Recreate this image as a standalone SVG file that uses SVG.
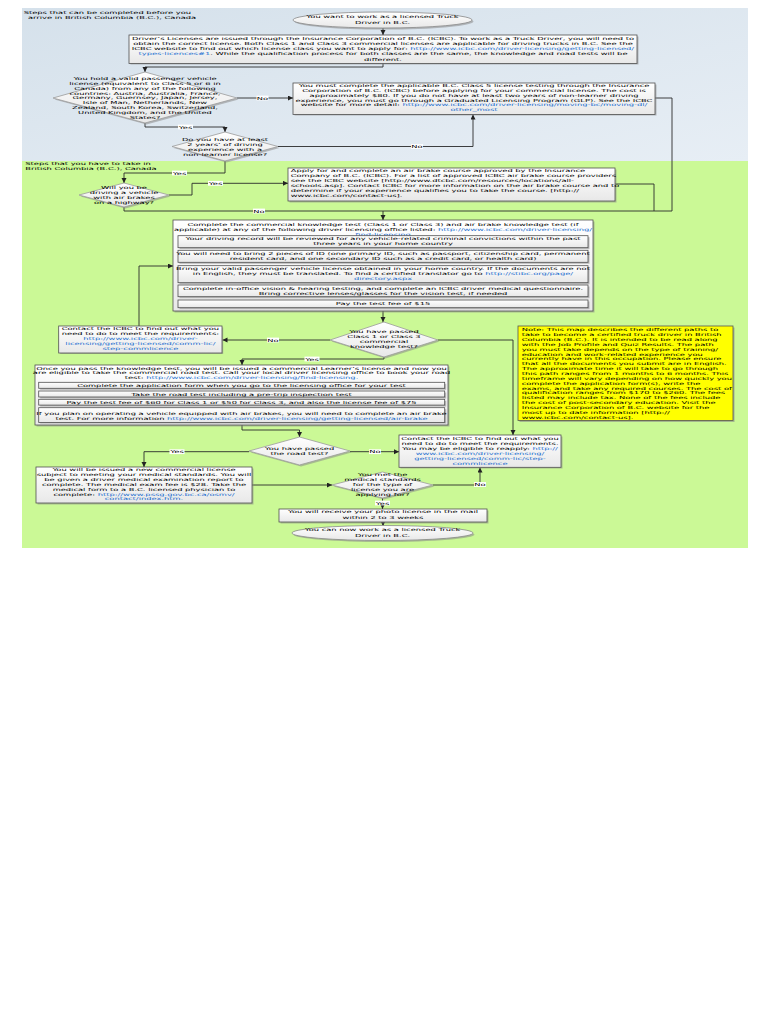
<svg xmlns="http://www.w3.org/2000/svg" width="768" height="1024" viewBox="0 0 768 1024">
<defs>
<linearGradient id="gb" x1="0" y1="0" x2="1" y2="1"><stop offset="0" stop-color="#d5e1eb"/><stop offset="1" stop-color="#e7eef5"/></linearGradient>
<linearGradient id="gw" x1="0" y1="0" x2="0" y2="1"><stop offset="0" stop-color="#ffffff"/><stop offset="1" stop-color="#e8e8e8"/></linearGradient>
<marker id="ar" markerUnits="userSpaceOnUse" markerWidth="6" markerHeight="6" refX="5" refY="2.5" orient="auto"><path d="M0,0 L5,2.5 L0,5 z" fill="#222"/></marker>
</defs>
<style>
.t{font-family:"DejaVu Sans",Verdana,sans-serif;font-size:4.1px;fill:#000}
.m{text-anchor:middle}
.k{fill:#1e6fd0}
.bx{fill:url(#gw);stroke:#505050;stroke-width:0.8}
.sh{fill:#8a8a8a;opacity:.55}
.dm{fill:url(#gw);stroke:#9a9a9a;stroke-width:0.8}
.cn{fill:none;stroke:#2a2a2a;stroke-width:0.9}
.lb{fill:#fff}
</style>
<rect x="0" y="0" width="768" height="1024" fill="#fff"/>
<rect x="22" y="8" width="726" height="153" fill="url(#gb)"/>
<rect x="22" y="161" width="726" height="387" fill="#cbf996"/>

<g class="t" transform="matrix(2.03 0 0 1 23.7 -0.3)"><text y="14.7">Steps that can be completed before you</text><text x="2.1" y="19.8">arrive in British Columbia (B.C.), Canada</text></g>
<g class="t" transform="matrix(2.03 0 0 1 25.3 -0.3)"><text y="165.2">Steps that you have to take in</text><text y="170.4">British Columbia (B.C.), Canada</text></g>

<g id="connectors">
<path class="cn" d="M383,28 V35" marker-end="url(#ar)"/>
<path class="cn" d="M383,63.5 V67 H145 V72" marker-end="url(#ar)"/>
<path class="cn" d="M237,98 H293" marker-end="url(#ar)"/>
<path class="cn" d="M145,123 V127 H225 V132" marker-end="url(#ar)"/>
<path class="cn" d="M278,146.5 H473 V114.5" marker-end="url(#ar)"/>
<path class="cn" d="M655,98 H672 V211 H654"/>
<path class="cn" d="M225,161 V173 H124 V183" marker-end="url(#ar)"/>
<path class="cn" d="M169,195 H192 V183.3 H288" marker-end="url(#ar)"/>
<path class="cn" d="M124,207 V211 H383"/>
<path class="cn" d="M615,184 H654 V211 H383 V220" marker-end="url(#ar)"/>
<path class="cn" d="M383,311 V322" marker-end="url(#ar)"/>
<path class="cn" d="M330,340 H222.5" marker-end="url(#ar)"/>
<path class="cn" d="M139,326 V266 H173" marker-end="url(#ar)"/>
<path class="cn" d="M384,357 V359 H242 V365" marker-end="url(#ar)"/>
<path class="cn" d="M438,340 H513 V435" marker-end="url(#ar)"/>
<path class="cn" d="M242,425 V430 H299.5 V437" marker-end="url(#ar)"/>
<path class="cn" d="M350,451.7 H399" marker-end="url(#ar)"/>
<path class="cn" d="M249,451.7 H144 V467" marker-end="url(#ar)"/>
<path class="cn" d="M252,485 H332" marker-end="url(#ar)"/>
<path class="cn" d="M433,485 H480 V467.5" marker-end="url(#ar)"/>
<path class="cn" d="M382.5,498 V509" marker-end="url(#ar)"/>
<path class="cn" d="M383,522 V526" marker-end="url(#ar)"/>
<g class="t">
<rect class="lb" x="256.5" y="95.6" width="12" height="4.8"/><text class="m" transform="matrix(2.03 0 0 1 262.5 99.7)">No</text>
<rect class="lb" x="178" y="124.6" width="15" height="4.8"/><text class="m" transform="matrix(2.03 0 0 1 185.5 128.7)">Yes</text>
<rect class="lb" x="411" y="144.1" width="12" height="4.8"/><text class="m" transform="matrix(2.03 0 0 1 417 148.2)">No</text>
<rect class="lb" x="172" y="170.6" width="15" height="4.8"/><text class="m" transform="matrix(2.03 0 0 1 179.5 174.7)">Yes</text>
<rect class="lb" x="208" y="180.9" width="15" height="4.8"/><text class="m" transform="matrix(2.03 0 0 1 215.5 185)">Yes</text>
<rect class="lb" x="253" y="208.6" width="12" height="4.8"/><text class="m" transform="matrix(2.03 0 0 1 259 212.7)">No</text>
<rect class="lb" x="267" y="337.6" width="12" height="4.8"/><text class="m" transform="matrix(2.03 0 0 1 273 341.7)">No</text>
<rect class="lb" x="304.5" y="356.6" width="15" height="4.8"/><text class="m" transform="matrix(2.03 0 0 1 312 360.7)">Yes</text>
<rect class="lb" x="369" y="449.3" width="12" height="4.8"/><text class="m" transform="matrix(2.03 0 0 1 375 453.4)">No</text>
<rect class="lb" x="169.5" y="449.3" width="15" height="4.8"/><text class="m" transform="matrix(2.03 0 0 1 177 453.4)">Yes</text>
<rect class="lb" x="474" y="482.1" width="12" height="4.8"/><text class="m" transform="matrix(2.03 0 0 1 480 486.2)">No</text>
<rect class="lb" x="375" y="500.6" width="15" height="4.8"/><text class="m" transform="matrix(2.03 0 0 1 382.5 504.7)">Yes</text>
</g>
</g>

<g id="start">
<ellipse cx="384" cy="21.5" rx="89.5" ry="8" class="sh"/>
<ellipse cx="382.5" cy="20" rx="89.5" ry="8" fill="url(#gw)" stroke="#888" stroke-width="0.8"/>
<g class="t m" transform="matrix(2.03 0 0 1 382.5 -0.3)"><text y="18.8">You want to work as a licensed Truck</text><text y="24.8">Driver in B.C.</text></g>
</g>

<g id="licenses">
<rect x="130.5" y="36.5" width="508" height="28" class="sh"/>
<rect x="129" y="35" width="508" height="28.5" class="bx"/>
<g class="t m" transform="matrix(2.03 0 0 1 383 -0.3)">
<text y="40.3">Driver’s Licenses are issued through the Insurance Corporation of B.C. (ICBC). To work as a Truck Driver, you will need to</text>
<text y="45.4">obtain the correct license.  Both Class 1 and Class 3 commercial licenses are applicable for driving trucks in B.C. See the</text>
<text y="50.6">ICBC website to find out which license class you want to apply for: <tspan class="k">http://www.icbc.com/driver-licensing/getting-licensed/</tspan></text>
<text y="55.8"><tspan class="k">types-licences#1</tspan>. While the qualification process for both classes are the same, the knowledge and road tests will be</text>
<text y="60.9">different.</text>
</g>
</g>

<g id="d-passenger">
<polygon points="146.5,73.5 238.5,99.5 146.5,124.5 54.5,99.5" class="sh"/>
<polygon points="145,72 237,98 145,123 53,98" class="dm"/>
<g class="t m" transform="matrix(2.03 0 0 1 145 -0.3)">
<text y="80.5">You hold a valid passenger vehicle</text>
<text y="85.3">license (equivalent to Class 5 or 6 in</text>
<text y="90.1">Canada) from any of the following</text>
<text y="95">countries: Austria, Australia, France,</text>
<text y="99.8">Germany, Guernsey, Japan, Jersey,</text>
<text y="104.6">Isle of Man, Netherlands, New</text>
<text y="109.5">Zealand, South Korea, Switzerland,</text>
<text y="114.3">United Kingdom, and the United</text>
<text y="119.1">States?</text>
</g>
</g>

<g id="class5">
<rect x="294.5" y="84.5" width="362" height="31" class="sh"/>
<rect x="293" y="83" width="362" height="31.5" class="bx"/>
<g class="t m" transform="matrix(2.03 0 0 1 474 -0.3)">
<text y="87.8">You must complete the applicable B.C. Class 5 license testing through the Insurance</text>
<text y="92.5">Corporation of B.C. (ICBC) before applying for your commercial license. The cost is</text>
<text y="97.2">approximately $80.  If you do not have at least two years of non-learner driving</text>
<text y="101.9">experience, you must go through a Graduated Licensing Program (GLP). See the ICBC</text>
<text y="106.8">website for more detail: <tspan class="k">http://www.icbc.com/driver-licensing/moving-bc/moving-dl/</tspan></text>
<text y="111.8" class="k">other_most</text>
</g>
</g>

<g id="d-twoyears">
<polygon points="226.5,133.5 279.5,148 226.5,162.5 173.5,148" class="sh"/>
<polygon points="225,132 278,146.5 225,161 172,146.5" class="dm"/>
<g class="t m" transform="matrix(2.03 0 0 1 225 -0.3)">
<text y="141.7">Do you have at least</text>
<text y="146.5">2 years’ of driving</text>
<text y="151.3">experience with a</text>
<text y="156.1">non-learner license?</text>
</g>
</g>

<g id="d-airbrakes">
<polygon points="125.5,184.5 170.5,196.5 125.5,208.5 80.5,196.5" class="sh"/>
<polygon points="124,183 169,195 124,207 79,195" class="dm"/>
<g class="t m" transform="matrix(2.03 0 0 1 124 -0.3)">
<text y="189">Will you be</text>
<text y="194">driving a vehicle</text>
<text y="199">with air brakes</text>
<text y="204">on a highway?</text>
</g>
</g>

<g id="airbrake-course">
<rect x="289.5" y="169.5" width="327" height="33" class="sh"/>
<rect x="288" y="168" width="327" height="33" class="bx"/>
<g class="t" transform="matrix(2.03 0 0 1 290.7 -0.3)">
<text y="172.4">Apply for and complete an air brake course approved by the Insurance</text>
<text y="177.4">Company of B.C. (ICBC). For a list of approved ICBC air brake course providers</text>
<text y="182.2">see the ICBC website [http://www.dtcbc.com/resources/locations/all-</text>
<text y="187.1">schools.asp]. Contact ICBC for more information on the air brake course and to</text>
<text y="192.1">determine if your experience qualifies you to take the course. [http://</text>
<text y="197.1">www.icbc.com/contact-us].</text>
</g>
</g>

<g id="knowledge-test">
<rect x="174.5" y="221.5" width="420" height="91" class="sh"/>
<rect x="173" y="220" width="420" height="91" class="bx"/>
<g class="t m" transform="matrix(2.03 0 0 1 383 -0.3)">
<text y="226.8">Complete the commercial knowledge test (Class 1 or Class 3)  and air brake knowledge test (if</text>
<text y="231.8">applicable) at any of the following driver licensing office listed: <tspan class="k">http://www.icbc.com/driver-licensing/</tspan></text>
<text y="236.3" class="k">find-licensing</text>
</g>
<rect x="179.5" y="237.2" width="410" height="12" class="sh"/>
<rect x="178" y="235.7" width="410" height="12" class="bx"/>
<rect x="179.5" y="251.8" width="410" height="12" class="sh"/>
<rect x="178" y="250.3" width="410" height="12" class="bx"/>
<rect x="179.5" y="267.2" width="410" height="17" class="sh"/>
<rect x="178" y="265.7" width="410" height="17" class="bx"/>
<rect x="179.5" y="286.5" width="410" height="11.7" class="sh"/>
<rect x="178" y="285" width="410" height="11.7" class="bx"/>
<rect x="179.5" y="301.5" width="410" height="7.7" class="sh"/>
<rect x="178" y="300" width="410" height="7.7" class="bx"/>
<g class="t m" transform="matrix(2.03 0 0 1 383 -0.3)">
<text y="240.8">Your driving record will be reviewed for any vehicle-related criminal convictions within the past</text>
<text y="245.8">three years in your home country</text>
<text y="255.4">You will need to bring 2 pieces of ID (one primary ID, such as passport, citizenship card, permanent</text>
<text y="260.4">resident card, and one secondary ID such as a credit card, or health card)</text>
<text y="270.1">Bring your valid passenger vehicle license obtained in your home country. If the documents are not</text>
<text y="275.4">in English, they must be translated. To find a certified translator go to <tspan class="k">http://stibc.org/page/</tspan></text>
<text y="280.7" class="k">directory.aspx</text>
<text y="290">Complete in-office vision &amp; hearing testing, and complete an ICBC driver medical questionnaire.</text>
<text y="295">Bring corrective lenses/glasses for the vision test, if needed</text>
<text y="305.5">Pay the test fee of $15</text>
</g>
</g>

<g id="contact1">
<rect x="60.2" y="327.5" width="163" height="26.5" class="sh"/>
<rect x="58.7" y="326" width="163.3" height="27" class="bx"/>
<g class="t m" transform="matrix(2.03 0 0 1 140.4 -0.3)">
<text y="330.8">Contact the ICBC to find out what you</text>
<text y="335.8">need to do to meet the requirements:</text>
<text y="340.8" class="k">http://www.icbc.com/driver-</text>
<text y="345.8" class="k">licensing/getting-licensed/comm-lic/</text>
<text y="350.8" class="k">step-commlicence</text>
</g>
</g>

<g id="d-knowledge">
<polygon points="385.5,323.5 439.5,341.5 385.5,358.5 331.5,341.5" class="sh"/>
<polygon points="384,322 438,340 384,357 330,340" class="dm"/>
<g class="t m" transform="matrix(2.03 0 0 1 384 -0.3)">
<text y="333.5">You have passed</text>
<text y="338.5">Class 1 or Class 3</text>
<text y="343.5">commercial</text>
<text y="348.7">knowledge test?</text>
</g>
</g>

<g id="note">
<rect x="519.5" y="327.5" width="215" height="94.5" fill="#8a8a8a" opacity=".6"/>
<rect x="518" y="326" width="215" height="94.5" fill="#ffff00" stroke="#555" stroke-width="0.8"/>
<g class="t" transform="matrix(2.03 0 0 1 521.7 -0.3)">
<text y="331.5">Note: This map describes the different paths to</text>
<text y="336.4">take to become a certified truck driver in British</text>
<text y="341.2">Columbia (B.C.). It is intended to be read along</text>
<text y="346.1">with the Job Profile and Quiz Results. The path</text>
<text y="351">you must take depends on the type of training/</text>
<text y="355.9">education and work-related experience you</text>
<text y="360.7">currently have in this occupation. Please ensure</text>
<text y="365.6">that all the documents you submit are in English.</text>
<text y="370.5">The approximate time it will take to go through</text>
<text y="375.3">this path ranges from 1 months to 6 months. This</text>
<text y="380.2">timeframe will vary depending on how quickly you</text>
<text y="385.1">complete the application form(s), write the</text>
<text y="389.9">exams, and take any required courses. The cost of</text>
<text y="394.8">qualification ranges from $170 to $260. The fees</text>
<text y="399.7">listed may include tax. None of the fees include</text>
<text y="404.6">the cost of post-secondary education. Visit the</text>
<text y="409.4">Insurance Corporation of B.C. website for the</text>
<text y="414.3">most up to date information [http://</text>
<text y="419.2">www.icbc.com/contact-us].</text>
</g>
</g>

<g id="road-test-steps">
<rect x="36.5" y="366.5" width="413" height="60" class="sh"/>
<rect x="35" y="365" width="413" height="60" class="bx"/>
<g class="t m" transform="matrix(2.03 0 0 1 241.5 -0.3)">
<text y="370.1">Once you pass the knowledge test, you will be issued a commercial Learner’s license and now you</text>
<text y="374.8">are eligible to take the commercial road test. Call your local driver licensing office to book your road</text>
<text y="379.5">test: <tspan class="k">http://www.icbc.com/driver-licensing/find-licensing.</tspan></text>
</g>
<rect x="40.2" y="383.8" width="406" height="6" class="sh"/>
<rect x="38.7" y="382.3" width="406" height="6" class="bx"/>
<rect x="40.2" y="392.5" width="406" height="6" class="sh"/>
<rect x="38.7" y="391" width="406" height="6" class="bx"/>
<rect x="40.2" y="400.8" width="406" height="5.8" class="sh"/>
<rect x="38.7" y="399.3" width="406" height="5.8" class="bx"/>
<rect x="40.2" y="409.2" width="406" height="14.3" class="sh"/>
<rect x="38.7" y="407.7" width="406" height="14.8" class="bx"/>
<g class="t m" transform="matrix(2.03 0 0 1 241.5 -0.3)">
<text y="387.2">Complete the application form when you go to the licensing office for your test</text>
<text y="395.9">Take the road test including a pre-trip inspection test</text>
<text y="404.2">Pay the test fee of $60 for Class 1 or $50 for Class 3, and also the license fee of $75</text>
<text y="415.5">If you plan on operating a vehicle equipped with air brakes, you will need to complete an air brake</text>
<text y="420.5">test. For more information <tspan class="k">http://www.icbc.com/driver-licensing/getting-licensed/air-brake</tspan></text>
</g>
</g>

<g id="d-roadtest">
<polygon points="301,438.5 351.5,452.5 301,466.5 250.5,452.5" class="sh"/>
<polygon points="299.5,437 350,451 299.5,465 249,451" class="dm"/>
<g class="t m" transform="matrix(2.03 0 0 1 299.5 -0.3)">
<text y="450.6">You have passed</text>
<text y="455.6">the road test?</text>
</g>
</g>

<g id="contact2">
<rect x="400.5" y="436.5" width="162" height="32" class="sh"/>
<rect x="399" y="435" width="162" height="32.3" class="bx"/>
<g class="t m" transform="matrix(2.03 0 0 1 480 -0.3)">
<text y="440.1">Contact the ICBC to find out what you</text>
<text y="445.1">need to do to meet the requirements.</text>
<text y="450.1">You may be eligible to reapply: <tspan class="k">http://</tspan></text>
<text y="455.4" class="k">www.icbc.com/driver-licensing/</text>
<text y="460.6" class="k">getting-licensed/comm-lic/step-</text>
<text y="465.4" class="k">commlicence</text>
</g>
</g>

<g id="new-license">
<rect x="37.5" y="468.5" width="216" height="36" class="sh"/>
<rect x="36" y="467" width="216" height="36" class="bx"/>
<g class="t m" transform="matrix(2.03 0 0 1 144 -0.3)">
<text y="471.8">You will be issued a new commercial license</text>
<text y="476.6">subject to meeting your medical standards. You will</text>
<text y="481.4">be given a driver medical examination report to</text>
<text y="486.2">complete. The medical exam fee is $28. Take the</text>
<text y="491.1">medical form to a B.C. licensed physician to</text>
<text y="495.9">complete: <tspan class="k">http://www.pssg.gov.bc.ca/osmv/</tspan></text>
<text y="500.8" class="k">contact/index.htm.</text>
</g>
</g>

<g id="d-medical">
<polygon points="384,473.5 434.5,486.5 384,499.5 333.5,486.5" class="sh"/>
<polygon points="382.5,472 433,485 382.5,498 332,485" class="dm"/>
<g class="t m" transform="matrix(2.03 0 0 1 382.5 -0.3)">
<text y="476">You met the</text>
<text y="481">medical standards</text>
<text y="486">for the type of</text>
<text y="491">license you are</text>
<text y="496.5">applying for?</text>
</g>
</g>

<g id="photo-license">
<rect x="280.5" y="510.5" width="208" height="13" class="sh"/>
<rect x="279" y="509" width="208" height="13" class="bx"/>
<g class="t m" transform="matrix(2.03 0 0 1 383 -0.3)">
<text y="513.5">You will receive your photo license in the mail</text>
<text y="519.4">within 2 to 3 weeks</text>
</g>
</g>

<g id="end">
<ellipse cx="384" cy="534.5" rx="90.5" ry="7.5" class="sh"/>
<ellipse cx="382.5" cy="533" rx="90.5" ry="7.5" fill="url(#gw)" stroke="#888" stroke-width="0.8"/>
<g class="t m" transform="matrix(2.03 0 0 1 382.5 -0.3)"><text y="531.2">You can now work as a licensed Truck</text><text y="536.9">Driver in B.C.</text></g>
</g>
</svg>
